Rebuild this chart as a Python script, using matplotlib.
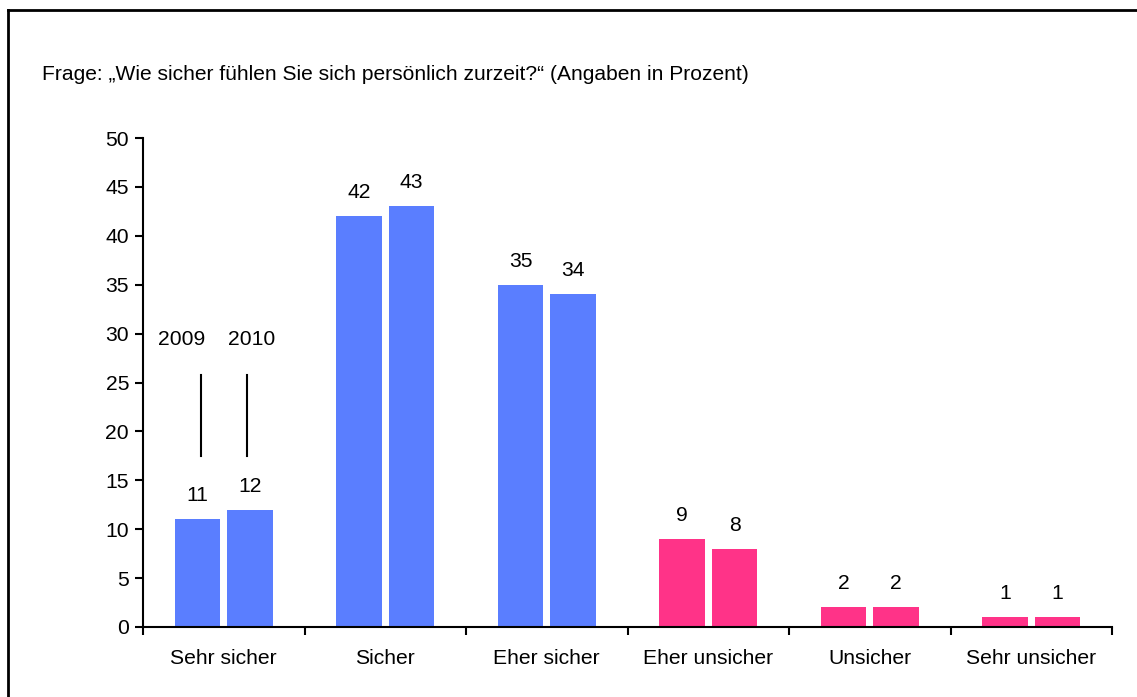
import matplotlib
matplotlib.use("Agg")
import matplotlib.pyplot as plt
import numpy as np
from matplotlib.lines import Line2D

plt.rcParams['font.family'] = ['Liberation Sans', 'DejaVu Sans']

categories = ["Sehr sicher", "Sicher", "Eher sicher", "Eher unsicher", "Unsicher", "Sehr unsicher"]
vals_2009 = [11, 42, 35, 9, 2, 1]
vals_2010 = [12, 43, 34, 8, 2, 1]
years = ["2009", "2010"]
yticks = list(range(0, 51, 5))

blue = "#5A7EFF"
pink = "#FF3388"
colors = [blue, blue, blue, pink, pink, pink]

W, H = 1137, 697
fs = 15.2
fig = plt.figure(figsize=(W / 100, H / 100), dpi=100)
ax = fig.add_axes([143 / W, 1 - 627 / H, (1112 - 143) / W, (627 - 138) / H])

x = np.arange(len(categories))
bw = 0.28
off = 0.163
b1 = ax.bar(x - off, vals_2009, bw, color=colors, linewidth=0)
b2 = ax.bar(x + off, vals_2010, bw, color=colors, linewidth=0)

for bars, vals in ((b1, vals_2009), (b2, vals_2010)):
    for rect, v in zip(bars, vals):
        ax.annotate(str(v), (rect.get_x() + rect.get_width() / 2, v),
                    xytext=(0, 17), textcoords="offset points",
                    ha="center", va="center", fontsize=fs)

# year markers over first group
ax.text(x[0] - 0.262, 29.4, years[0], ha="center", va="center", fontsize=fs)
ax.text(x[0] + 0.175, 29.4, years[1], ha="center", va="center", fontsize=fs)
ax.plot([x[0] - 0.141, x[0] - 0.141], [17.5, 25.8], color="black", lw=1.5)
ax.plot([x[0] + 0.144, x[0] + 0.144], [17.5, 25.8], color="black", lw=1.5)

ax.set_xlim(-0.5, len(categories) - 0.5)
ax.set_ylim(0, 50)
ax.set_yticks(yticks)
ax.set_xticks(np.arange(-0.5, len(categories), 1.0))
ax.set_xticklabels([])
ax.set_xticks(x, minor=True)
ax.set_xticklabels(categories, minor=True, fontsize=fs)
ax.tick_params(axis="x", which="minor", length=0, pad=16)
ax.tick_params(axis="x", which="major", direction="out", length=6, width=1.5)
ax.tick_params(axis="y", direction="out", length=6, width=1.5, labelsize=fs, pad=4)
for s in ("top", "right"):
    ax.spines[s].set_visible(False)
for s in ("left", "bottom"):
    ax.spines[s].set_linewidth(1.5)

fig.text(42 / W, 1 - 75 / H, "Frage: \u201eWie sicher f\u00fchlen Sie sich pers\u00f6nlich zurzeit?\u201c (Angaben in Prozent)",
         ha="left", va="center", fontsize=15.1)

# frame (only top and left edges visible in the crop)
fig.add_artist(Line2D([8 / W, 8 / W], [0, 1 - 10 / H], transform=fig.transFigure, color="black", lw=2))
fig.add_artist(Line2D([8 / W, 1], [1 - 10 / H, 1 - 10 / H], transform=fig.transFigure, color="black", lw=2))

fig.savefig("out.png", dpi=100)
